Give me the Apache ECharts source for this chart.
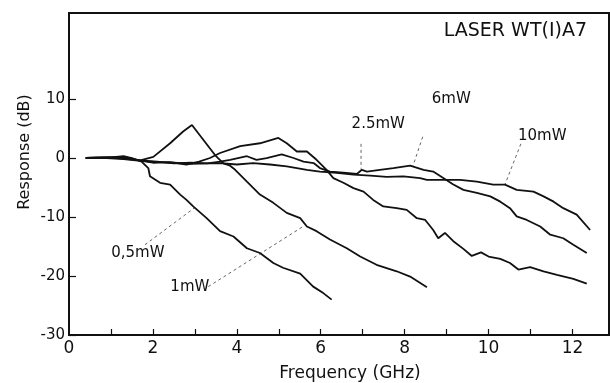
<!DOCTYPE html>
<html>
<head>
<meta charset="utf-8">
<script src="https://cdn.jsdelivr.net/npm/echarts@6/dist/echarts.min.js"></script>
<style>html,body{margin:0;padding:0;background:#fff}#c{width:610px;height:383px}</style>
</head>
<body>
<div id="c"></div>
<script>
// ---- data (frequency GHz, response dB) ----
const p05 = [[0.4,0],[0.8,0.1],[1.0,0.1],[1.3,0.3],[1.5,0],[1.73,-0.6],[1.89,-1.7],[1.93,-3.1],[2.17,-4.2],[2.41,-4.5],[2.65,-6.2],[2.8,-7.1],[2.96,-8.2],[3.28,-10.2],[3.6,-12.4],[3.92,-13.3],[4.24,-15.3],[4.55,-16.1],[4.87,-17.8],[5.1,-18.6],[5.51,-19.6],[5.82,-21.8],[6.06,-22.9],[6.26,-24.0]];
const p1 = [[0.4,0],[0.9,0.1],[1.3,-0.1],[1.7,-0.4],[2.01,0.2],[2.41,2.5],[2.72,4.5],[2.93,5.6],[3.2,3.1],[3.48,0.5],[3.68,-0.9],[3.84,-1.3],[3.96,-2.0],[4.24,-4.0],[4.55,-6.2],[4.87,-7.6],[5.19,-9.3],[5.51,-10.2],[5.67,-11.6],[5.9,-12.4],[6.22,-13.8],[6.62,-15.3],[6.94,-16.7],[7.33,-18.1],[7.81,-19.2],[8.13,-20.1],[8.53,-21.9]];
const p25 = [[0.4,0],[0.9,0.1],[1.3,0.2],[1.6,-0.3],[2.0,-0.8],[2.4,-0.7],[2.8,-1.1],[3.1,-0.6],[3.36,0],[3.6,0.85],[4.08,2.0],[4.55,2.5],[4.99,3.4],[5.19,2.5],[5.43,1.1],[5.67,1.1],[5.9,-0.3],[6.14,-2.0],[6.3,-3.4],[6.54,-4.2],[6.78,-5.1],[7.02,-5.7],[7.25,-7.1],[7.49,-8.2],[7.81,-8.5],[8.05,-8.8],[8.29,-10.2],[8.49,-10.5],[8.68,-12.2],[8.8,-13.6],[8.96,-12.7],[9.16,-14.1],[9.4,-15.4],[9.6,-16.6],[9.82,-16.0],[10.0,-16.7],[10.28,-17.1],[10.51,-17.8],[10.71,-18.9],[10.99,-18.5],[11.31,-19.2],[11.63,-19.8],[12.02,-20.5],[12.34,-21.3]];
const p6 = [[0.4,0],[0.9,0],[1.3,0.1],[1.7,-0.4],[2.1,-0.6],[2.5,-0.9],[2.9,-0.8],[3.3,-0.9],[3.6,-0.6],[3.84,-0.3],[4.24,0.3],[4.47,-0.3],[4.71,0],[5.07,0.6],[5.35,0],[5.59,-0.6],[5.83,-0.85],[5.98,-1.7],[6.22,-2.3],[6.54,-2.5],[6.86,-2.7],[6.98,-2.0],[7.1,-2.3],[7.41,-2.0],[7.73,-1.7],[8.13,-1.3],[8.45,-2.0],[8.68,-2.3],[8.92,-3.4],[9.16,-4.5],[9.4,-5.4],[9.72,-5.9],[10.04,-6.5],[10.28,-7.4],[10.51,-8.5],[10.67,-9.9],[10.91,-10.5],[11.23,-11.6],[11.47,-13.0],[11.78,-13.6],[12.02,-14.7],[12.34,-16.1]];
const p10 = [[0.4,0],[0.9,0],[1.3,-0.2],[1.7,-0.5],[2.1,-0.7],[2.5,-0.8],[2.9,-1.0],[3.3,-0.9],[3.6,-0.85],[4.0,-1.1],[4.39,-0.85],[4.79,-1.1],[5.19,-1.4],[5.67,-2.0],[5.98,-2.3],[6.38,-2.5],[6.78,-2.8],[7.18,-3.0],[7.57,-3.2],[7.97,-3.1],[8.37,-3.4],[8.53,-3.7],[8.92,-3.7],[9.32,-3.7],[9.72,-4.0],[10.11,-4.5],[10.39,-4.5],[10.67,-5.4],[11.07,-5.7],[11.31,-6.5],[11.55,-7.4],[11.78,-8.5],[12.1,-9.6],[12.42,-12.2]];

// leader lines from labels to curves
const lead6 = [[8.43,3.6],[8.2,-1.3]];
const lead25 = [[6.96,2.4],[6.96,-1.8]];
const lead10 = [[10.77,2.4],[10.39,-4.5]];
const lead05 = [[1.81,-14.7],[3.0,-8.4]];
const lead1 = [[3.32,-21.8],[5.58,-11.6]];

// curve annotations
const annotNames = ['6mW','2.5mW','10mW','0,5mW','1mW'];
const annotX = [9.11, 7.37, 11.28, 1.64, 2.88];
const annotY = [10.0, 5.76, 3.73, -16.2, -21.9];

// axis ticks
const xLabelTicks = [0,2,4,6,8,10,12];
const xMinorTicks = [1,2,3,4,5,6,7,8,9,10,11,12];
const yTicks = [-30,-20,-10,0,10];

const titleText = 'LASER WT(I)A7';
const xName = 'Frequency (GHz)';
const yName = 'Response (dB)';

const FONT = '"DejaVu Sans", sans-serif';
const INK = '#111';

const chart = echarts.init(document.getElementById('c'), null, {renderer:'canvas'});

function curve(name, data){
  return {name, type:'line', data, symbol:'none', smooth:false,
    lineStyle:{color:INK, width:1.8}, z:3, silent:true};
}
function leader(data){
  return {type:'line', data, symbol:'none', lineStyle:{color:'#555', width:0.9, type:[3,3]}, z:2, silent:true};
}

const option = {
  animation:false,
  backgroundColor:'#fff',
  grid:{left:69, right:1, top:13, bottom:48, show:true, borderColor:INK, borderWidth:2, containLabel:false},
  xAxis:{type:'value', min:0, max:12.87, interval:1,
    axisLine:{show:true, onZero:false, lineStyle:{color:INK, width:2}},
    axisTick:{show:true, inside:true, length:6, customValues:xMinorTicks, lineStyle:{color:INK, width:1.2}},
    axisLabel:{customValues:xLabelTicks, color:INK, fontSize:17, fontFamily:FONT, margin:5},
    splitLine:{show:false}},
  yAxis:{type:'value', min:-30, max:24.58, interval:10,
    axisLine:{show:true, onZero:false, lineStyle:{color:INK, width:2}},
    axisTick:{show:true, inside:true, length:7, customValues:yTicks, lineStyle:{color:INK, width:1.2}},
    axisLabel:{customValues:yTicks, color:INK, fontSize:15, fontFamily:FONT, margin:4},
    splitLine:{show:false}},
  graphic:[
    {type:'text', x:587, y:31.5, style:{text:titleText, font:'19px ' + FONT, fill:INK, textAlign:'right', textVerticalAlign:'middle'}},
    {type:'text', x:350, y:374, style:{text:xName, font:'17px ' + FONT, fill:INK, textAlign:'center', textVerticalAlign:'middle'}},
    {type:'text', x:24.5, y:152, rotation:Math.PI/2, style:{text:yName, font:'16px ' + FONT, fill:INK, textAlign:'center', textVerticalAlign:'middle'}}
  ],
  series:[
    curve('0.5mW', p05),
    curve('1mW', p1),
    curve('2.5mW', p25),
    curve('6mW', p6),
    curve('10mW', p10),
    leader(lead6), leader(lead25), leader(lead10), leader(lead05), leader(lead1),
    {type:'scatter', symbolSize:0, silent:true, z:4,
      itemStyle:{opacity:1, color:INK},
      data: annotNames.map((n,i)=>({name:n, value:[annotX[i], annotY[i]]})),
      label:{show:true, position:'inside', formatter:p=>p.name, color:INK, opacity:1, fontSize:15, fontFamily:FONT}}
  ]
};
chart.setOption(option);
</script>
</body>
</html>
